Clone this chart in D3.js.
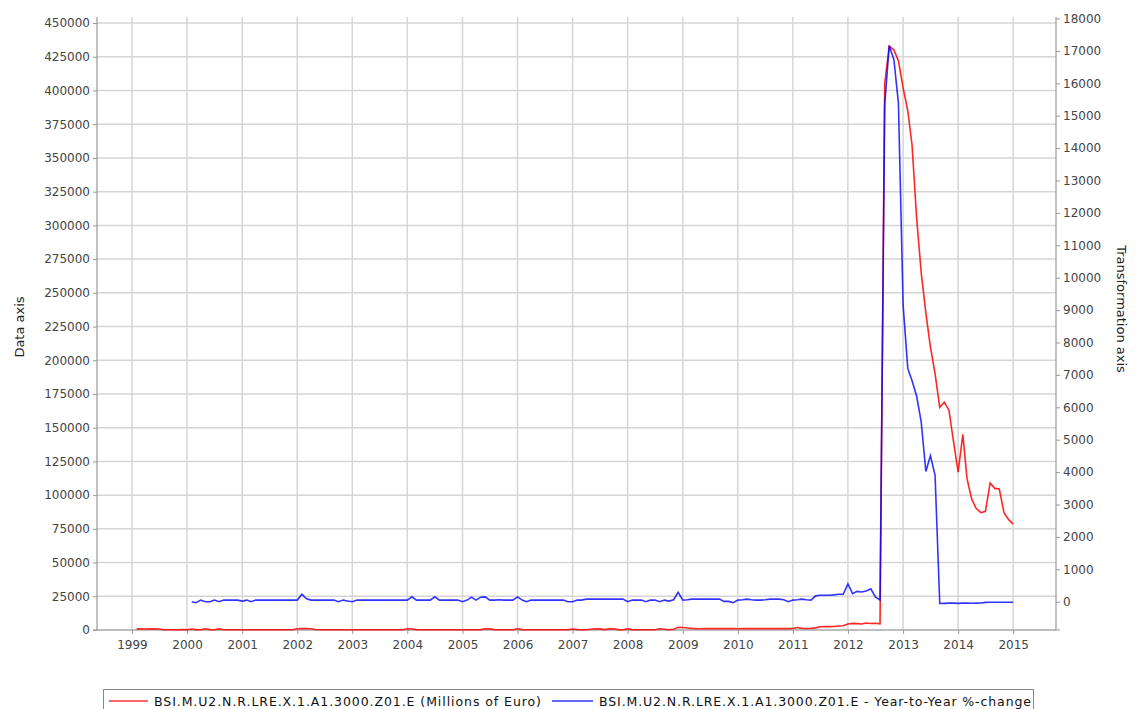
<!DOCTYPE html>
<html>
<head>
<meta charset="utf-8">
<script src="https://cdn.jsdelivr.net/npm/d3@7"></script>
<style>
  body { margin: 0; background: #fff; }
  svg { display: block; }
</style>
</head>
<body>
<div id="chart"></div>
<script>
// monthly data, red = level (left axis), blue = yoy % change (right axis)
const redStart = [1999, 2];
const redValues = [
  800, 800, 750, 800, 800, 700, 200, 150, 150, 200, 300, // 1999 feb-dec
  200, 700, 300, 200, 900, 300, 200, 800, 200, 150, 150, 150, // 2000
  150, 150, 150, 150, 200, 150, 150, 150, 150, 150, 150, 200, // 2001
  900, 1000, 1000, 900, 400, 200, 150, 150, 150, 150, 150, 150, // 2002
  150, 150, 150, 200, 150, 150, 150, 200, 150, 150, 150, 200, // 2003
  900, 700, 300, 200, 150, 150, 150, 150, 150, 150, 150, 150, // 2004
  150, 150, 150, 200, 300, 900, 800, 300, 200, 150, 150, 200, // 2005
  900, 300, 200, 150, 150, 150, 150, 150, 150, 150, 200, 200, // 2006
  700, 300, 200, 150, 600, 900, 800, 300, 800, 900, 300, 200, // 2007
  800, 300, 200, 150, 150, 150, 200, 900, 500, 200, 600, 2000, // 2008
  1800, 1500, 1200, 1000, 900, 1000, 1000, 1000, 1000, 1000, 1000, 1000, // 2009
  950, 1000, 1050, 1000, 1000, 1050, 1000, 1000, 1050, 1000, 1000, 1050, // 2010
  1100, 1800, 1200, 1100, 1200, 1600, 2400, 2600, 2500, 2600, 3000, 3200, // 2011
  4500, 4900, 4700, 4500, 5200, 4800, 5000, 4600, 405000, 433000, 430000, 422000, // 2012
  402000, 385000, 360000, 305000, 265000, 235000, 210000, 190000, 165000, 169000, 163000, 140000, // 2013
  117000, 145000, 112000, 97000, 90000, 87000, 88000, 109000, 105000, 104500, 87000, 82000, // 2014
  78500 // 2015 jan
];

const blueStart = [2000, 2];
const blueValues = [
  0, -30, 50, 0, 0, 50, 0, 50, 50, 50, 50, // 2000 feb-dec
  20, 50, 0, 50, 50, 50, 50, 50, 50, 50, 50, 50, // 2001
  50, 230, 100, 50, 50, 50, 50, 50, 50, 0, 50, 20, // 2002
  0, 50, 50, 50, 50, 50, 50, 50, 50, 50, 50, 50, // 2003
  50, 150, 50, 50, 50, 50, 150, 50, 50, 50, 50, 50, // 2004
  0, 50, 140, 50, 140, 150, 50, 50, 60, 50, 50, 50, // 2005
  150, 50, 0, 50, 50, 50, 50, 50, 50, 50, 50, 0, // 2006
  0, 50, 50, 80, 80, 80, 80, 80, 80, 80, 80, 80, // 2007
  0, 50, 50, 50, 0, 50, 50, 0, 50, 20, 60, 290, // 2008
  50, 60, 80, 80, 80, 80, 80, 80, 80, 10, 10, -30, // 2009
  50, 60, 80, 60, 50, 50, 60, 80, 80, 80, 60, 0, // 2010
  50, 60, 80, 60, 50, 180, 200, 200, 200, 210, 230, 230, // 2011
  550, 250, 320, 300, 330, 400, 150, 50, 15330, 17160, 16730, 15390, // 2012
  9160, 7200, 6830, 6340, 5550, 4020, 4510, 3900, -55, -50, -45, -45, // 2013
  -50, -45, -45, -48, -45, -40, -20, -15, -15, -15, -15, -15, // 2014
  -15 // 2015 jan
];

const yearTicks = [1999, 2000, 2001, 2002, 2003, 2004, 2005, 2006, 2007, 2008, 2009, 2010, 2011, 2012, 2013, 2014, 2015];
const leftTicks = [0, 25000, 50000, 75000, 100000, 125000, 150000, 175000, 200000, 225000, 250000, 275000, 300000, 325000, 350000, 375000, 400000, 425000, 450000];
const rightTicks = [0, 1000, 2000, 3000, 4000, 5000, 6000, 7000, 8000, 9000, 10000, 11000, 12000, 13000, 14000, 15000, 16000, 17000, 18000];

const seriesNames = [
  "BSI.M.U2.N.R.LRE.X.1.A1.3000.Z01.E (Millions of Euro)",
  "BSI.M.U2.N.R.LRE.X.1.A1.3000.Z01.E - Year-to-Year %-change"
];

const toPoints = (start, values) =>
  values.map((v, i) => ({ date: new Date(start[0], start[1] - 1 + i, 1), value: v }));

const drawChart = () => {
  const width = 1137;
  const height = 709;
  const left = 97, right = 1056, top = 17, bottom = 630;
  const font = "DejaVu Sans, sans-serif";

  const svg = d3.select("#chart")
    .append("svg")
    .attr("width", width)
    .attr("height", height);

  const x = d3.scaleTime()
    .domain([new Date(1998, 4, 14), new Date(2015, 9, 12)])
    .range([left, right]);

  const yLeft = d3.scaleLinear()
    .domain([0, 454500])
    .range([bottom, top]);

  const yRight = d3.scaleLinear()
    .domain([-873, 18046])
    .range([bottom, top]);

  // grid
  svg.append("g")
    .selectAll("line")
    .data(leftTicks)
    .join("line")
    .attr("x1", left).attr("x2", right)
    .attr("y1", d => yLeft(d)).attr("y2", d => yLeft(d))
    .attr("stroke", "#d6d6d6")
    .attr("stroke-width", 1.5);

  svg.append("g")
    .selectAll("line")
    .data(yearTicks)
    .join("line")
    .attr("x1", d => x(new Date(d, 0, 1))).attr("x2", d => x(new Date(d, 0, 1)))
    .attr("y1", top).attr("y2", bottom)
    .attr("stroke", "#d6d6d6")
    .attr("stroke-width", 1.5);

  // axes
  const leftAxis = svg.append("g")
    .attr("transform", `translate(${left},0)`)
    .call(d3.axisLeft(yLeft).tickValues(leftTicks).tickSize(4).tickPadding(3).tickFormat(d3.format("d")));

  const rightAxis = svg.append("g")
    .attr("transform", `translate(${right},0)`)
    .call(d3.axisRight(yRight).tickValues(rightTicks).tickSize(4).tickPadding(3).tickFormat(d3.format("d")));

  const bottomAxis = svg.append("g")
    .attr("transform", `translate(0,${bottom})`)
    .call(d3.axisBottom(x).tickValues(yearTicks.map(y => new Date(y, 0, 1))).tickSize(4).tickPadding(6).tickFormat(d3.timeFormat("%Y")));

  [leftAxis, rightAxis, bottomAxis].forEach(g => {
    g.select(".domain").attr("stroke", "#999").attr("stroke-width", 1.2);
    g.selectAll(".tick line").attr("stroke", "#999");
    g.selectAll(".tick text")
      .attr("fill", "#444")
      .style("font-family", font)
      .style("font-size", "12px");
  });
  leftAxis.select(".domain").attr("d", `M-4,${bottom}H0V${top}`);
  rightAxis.select(".domain").attr("d", `M4,${bottom}H0V${top}`);
  bottomAxis.select(".domain").attr("d", `M${left},0H${right}`);

  // axis titles
  svg.append("text")
    .attr("transform", "translate(24,327) rotate(-90)")
    .attr("text-anchor", "middle")
    .style("font-family", font)
    .style("font-size", "13px")
    .attr("fill", "#222")
    .text("Data axis");

  svg.append("text")
    .attr("transform", "translate(1117,309) rotate(90)")
    .attr("text-anchor", "middle")
    .style("font-family", font)
    .style("font-size", "13px")
    .attr("fill", "#222")
    .text("Transformation axis");

  // lines
  const redLine = d3.line()
    .x(d => x(d.date))
    .y(d => yLeft(d.value));

  const blueLine = d3.line()
    .x(d => x(d.date))
    .y(d => yRight(d.value));

  svg.append("path")
    .datum(toPoints(redStart, redValues))
    .attr("d", redLine)
    .attr("fill", "none")
    .attr("stroke", "#ff0000")
    .attr("stroke-opacity", 0.85)
    .attr("stroke-width", 1.6);

  svg.append("path")
    .datum(toPoints(blueStart, blueValues))
    .attr("d", blueLine)
    .attr("fill", "none")
    .attr("stroke", "#0000ff")
    .attr("stroke-opacity", 0.8)
    .attr("stroke-width", 1.6);

  // legend
  const legend = svg.append("g");
  legend.append("rect")
    .attr("x", 103.5).attr("y", 689.5)
    .attr("width", 930).attr("height", 30)
    .attr("fill", "none")
    .attr("stroke", "#888");

  const legendItems = [
    { name: seriesNames[0], color: "#ff3333", x0: 109, x1: 148, tx: 154, tw: 387 },
    { name: seriesNames[1], color: "#3333ff", x0: 552, x1: 593, tx: 599, tw: 432 }
  ];
  legendItems.forEach(it => {
    legend.append("line")
      .attr("x1", it.x0).attr("x2", it.x1)
      .attr("y1", 701).attr("y2", 701)
      .attr("stroke", it.color)
      .attr("stroke-width", 1.5);
    legend.append("text")
      .attr("x", it.tx).attr("y", 705.5)
      .attr("textLength", it.tw)
      .attr("lengthAdjust", "spacing")
      .style("font-family", font)
      .style("font-size", "12.5px")
      .attr("fill", "#111")
      .text(it.name);
  });
};

drawChart();
</script>
</body>
</html>
